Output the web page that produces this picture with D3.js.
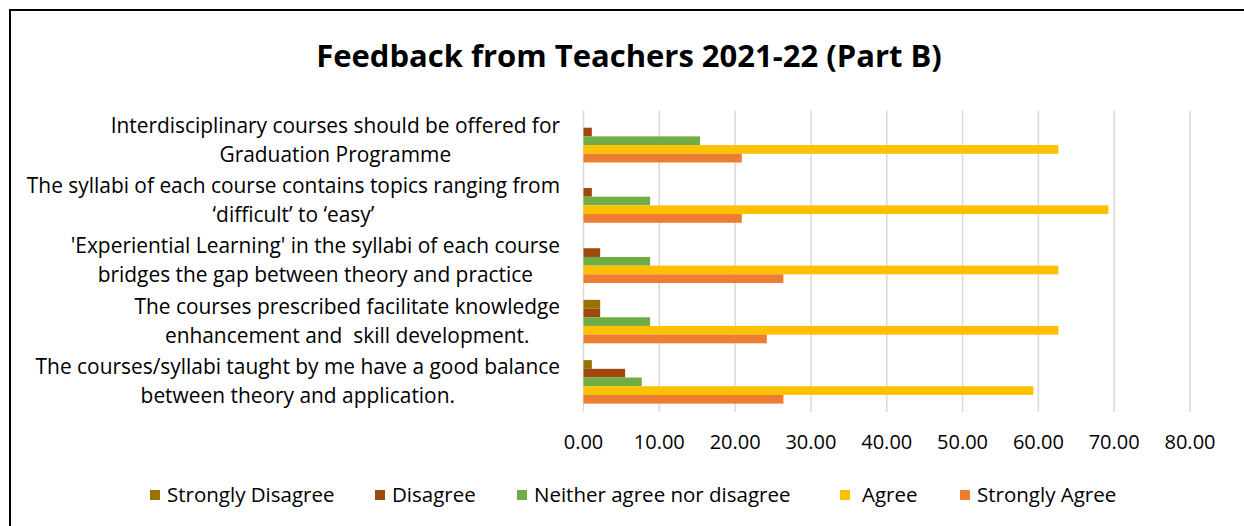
<!DOCTYPE html>
<meta charset="utf-8">
<style>
body {margin: 0; background: #fff;}
text {font-family: "Open Sans", "Liberation Sans", sans-serif; fill: #000;}
.grid line {stroke: #d9d9d9; stroke-width: 1.5;}
</style>
<body>
<div id="chart"></div>
<script src="https://d3js.org/d3.v7.min.js"></script>
<script>
// data (percent of 91 teachers)
var categories = [
  ["Interdisciplinary courses should be offered for", "Graduation Programme"],
  ["The syllabi of each course contains topics ranging from", "\u2018difficult\u2019 to \u2018easy\u2019"],
  ["'Experiential Learning' in the syllabi of each course", "bridges the gap between theory and practice"],
  ["The courses prescribed facilitate knowledge", "enhancement and  skill development."],
  ["The courses/syllabi taught by me have a good balance", "between theory and application."]
];
var series = ["Strongly Disagree", "Disagree", "Neither agree nor disagree", "Agree", "Strongly Agree"];
var colors = ["#997300", "#9e480e", "#70ad47", "#ffc000", "#ed7d31"];
var stronglyDisagree = [0, 0, 0, 2.20, 1.10];
var disagree         = [1.10, 1.10, 2.20, 2.20, 5.49];
var neither          = [15.38, 8.79, 8.79, 8.79, 7.69];
var agree            = [62.64, 69.23, 62.64, 62.64, 59.34];
var stronglyAgree    = [20.88, 20.88, 26.37, 24.18, 26.37];
var ticks = [0, 10, 20, 30, 40, 50, 60, 70, 80];

var values = [stronglyDisagree, disagree, neither, agree, stronglyAgree];

var width = 1244, height = 526;
var svg = d3.select("#chart").append("svg")
    .attr("width", width)
    .attr("height", height);

// chart border
svg.append("rect")
    .attr("x", 10).attr("y", 10)
    .attr("width", width).attr("height", height)
    .attr("fill", "none").attr("stroke", "#000").attr("stroke-width", 2);

svg.append("text")
    .attr("x", 629).attr("y", 67)
    .attr("text-anchor", "middle")
    .style("font-size", "31px").style("font-weight", "bold")
    .text("Feedback from Teachers 2021-22 (Part B)");

var x = d3.scaleLinear().domain([0, 80]).range([583.5, 1190]);
var y = d3.scaleBand().domain(d3.range(categories.length)).range([110.6, 412]);
var gap = 16.8;
var yi = d3.scaleBand().domain(d3.range(series.length)).range([gap / 2, y.bandwidth() - gap / 2]);

// gridlines
svg.append("g").attr("class", "grid")
  .selectAll("line").data(ticks).enter().append("line")
    .attr("x1", function(d) { return x(d); })
    .attr("x2", function(d) { return x(d); })
    .attr("y1", y.range()[0])
    .attr("y2", y.range()[1]);

// tick labels
svg.append("g").selectAll("text").data(ticks).enter().append("text")
    .attr("x", function(d) { return x(d); })
    .attr("y", 449)
    .attr("text-anchor", "middle")
    .style("font-size", "20px")
    .text(function(d) { return d3.format(".2f")(d); });

// bars
var groups = svg.append("g").selectAll("g").data(categories).enter().append("g")
    .attr("transform", function(d, i) { return "translate(0," + y(i) + ")"; });

groups.selectAll("rect")
    .data(function(d, i) { return values.map(function(v, s) { return {s: s, v: v[i]}; }); })
    .enter().append("rect")
    .filter(function(d) { return d.v > 0; })
    .attr("x", x(0))
    .attr("y", function(d) { return yi(d.s); })
    .attr("width", function(d) { return x(d.v) - x(0); })
    .attr("height", yi.bandwidth())
    .attr("fill", function(d) { return colors[d.s]; });

// category labels: block right-aligned, lines centred inside block
groups.each(function(lines) {
  var g = d3.select(this);
  var t = g.selectAll("text.lab").data(lines).enter().append("text")
      .attr("class", "lab")
      .attr("text-anchor", "middle")
      .attr("y", function(d, k) { return y.bandwidth() / 2 + (k === 0 ? -8 : 21); })
      .style("font-size", "20.9px")
      .style("white-space", "pre")
      .text(function(d) { return d; });
  var w = 0;
  t.each(function() { w = Math.max(w, this.getComputedTextLength()); });
  t.attr("x", 560 - w / 2);
});

// legend
var legendX = [150, 375, 517, 840, 960];
var leg = svg.append("g").selectAll("g").data(series).enter().append("g")
    .attr("transform", function(d, i) { return "translate(" + legendX[i] + ",495)"; });
leg.append("rect")
    .attr("x", 0).attr("y", -5).attr("width", 10).attr("height", 10)
    .attr("fill", function(d, i) { return colors[i]; });
leg.append("text")
    .attr("x", function(d, i) { return i === 3 ? 22 : 17; })
    .attr("y", 7)
    .style("font-size", "20.5px")
    .text(function(d) { return d; });
</script>
</body>
